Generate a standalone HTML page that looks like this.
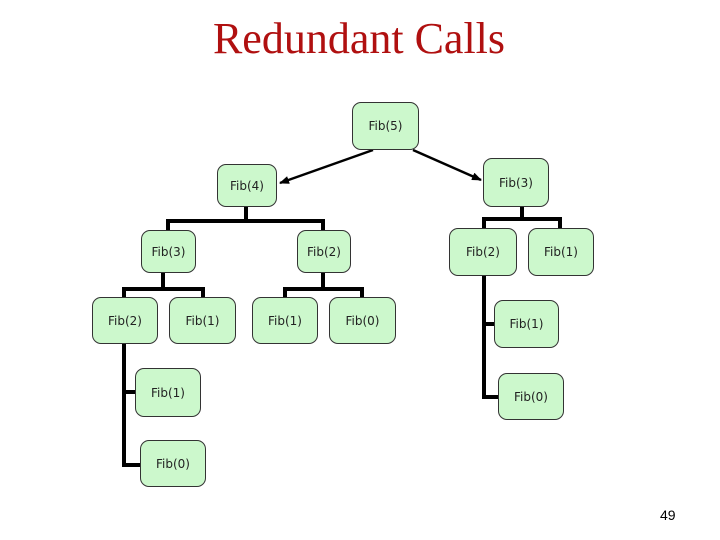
<!DOCTYPE html>
<html><head><style>
body{margin:0;width:720px;height:540px;background:#fff;position:relative;overflow:hidden;font-family:"DejaVu Sans","Liberation Sans",sans-serif;}
.t{position:absolute;left:0;width:718px;top:13px;text-align:center;font-family:"Liberation Serif",serif;font-size:44px;color:#b01010;}
.n{position:absolute;box-sizing:border-box;background:#ccf8cc;border:1px solid #333;border-radius:9px;font-size:12px;color:#222;display:flex;align-items:center;justify-content:center;}
.pg{position:absolute;left:660px;top:507px;font-size:14px;font-family:"Liberation Sans",sans-serif;}
</style></head><body>
<div class="t">Redundant Calls</div>
<svg width="720" height="540" style="position:absolute;left:0;top:0">
<defs><marker id="a" markerWidth="10" markerHeight="8" refX="9" refY="4" orient="auto" markerUnits="userSpaceOnUse"><path d="M0,0 L10,4 L0,8 z" fill="#000"/></marker></defs>
<g stroke="#000" stroke-width="2.5" fill="none">
<line x1="373" y1="150" x2="280" y2="183" marker-end="url(#a)"/>
<line x1="413" y1="150" x2="481" y2="180" marker-end="url(#a)"/>
</g>
<g stroke="#000" stroke-width="4" fill="none">
<path d="M246 207V221M168 230V221H323V230"/>
<path d="M163 273V289M124 297V289H203V297"/>
<path d="M323 273V289M285 297V289H362V297"/>
<path d="M522 207V219M484 228V219H560V228"/>
<path d="M124 344V465H140M124 392H135"/>
<path d="M484 276V397H498M484 324H494"/>
</g>
</svg>
<div class="n" style="left:352px;top:102px;width:67px;height:48px">Fib(5)</div>
<div class="n" style="left:217px;top:164px;width:60px;height:43px">Fib(4)</div>
<div class="n" style="left:483px;top:158px;width:66px;height:49px">Fib(3)</div>
<div class="n" style="left:141px;top:230px;width:55px;height:43px">Fib(3)</div>
<div class="n" style="left:297px;top:230px;width:54px;height:43px">Fib(2)</div>
<div class="n" style="left:449px;top:228px;width:68px;height:48px">Fib(2)</div>
<div class="n" style="left:528px;top:228px;width:66px;height:48px">Fib(1)</div>
<div class="n" style="left:92px;top:297px;width:66px;height:47px">Fib(2)</div>
<div class="n" style="left:169px;top:297px;width:67px;height:47px">Fib(1)</div>
<div class="n" style="left:252px;top:297px;width:66px;height:47px">Fib(1)</div>
<div class="n" style="left:329px;top:297px;width:67px;height:47px">Fib(0)</div>
<div class="n" style="left:494px;top:300px;width:65px;height:48px">Fib(1)</div>
<div class="n" style="left:498px;top:373px;width:66px;height:47px">Fib(0)</div>
<div class="n" style="left:135px;top:368px;width:66px;height:49px">Fib(1)</div>
<div class="n" style="left:140px;top:440px;width:66px;height:47px">Fib(0)</div>
<div class="pg">49</div>
</body></html>
